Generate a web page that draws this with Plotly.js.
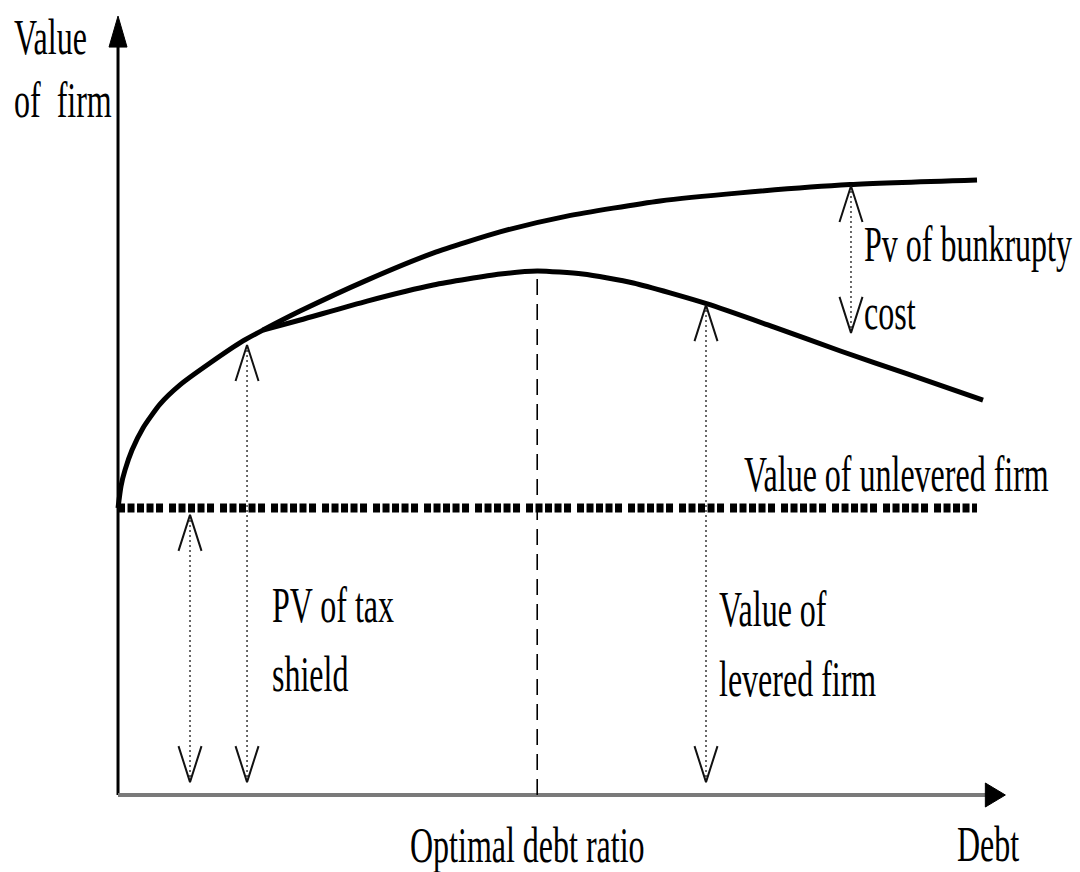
<!DOCTYPE html>
<html>
<head>
<meta charset="utf-8">
<script src="https://cdn.plot.ly/plotly-3.0.1.min.js"></script>
<style>
  html, body { margin: 0; padding: 0; background: #ffffff; }
  #chart { width: 1080px; height: 872px; }
</style>
</head>
<body>
<div id="chart"></div>
<script>
// ---- Data (debt on x, value of firm on y) ----
const debtNoDistress  = [0, 0.035, 0.081, 0.163, 0.291, 0.489, 0.722, 1.071, 1.455, 1.688, 2.119, 2.899, 3.667, 4.447, 5.227, 6.310, 7.241, 8.522, 10.0];
const valueNoDistress = [10.0, 10.77, 11.32, 12.02, 12.79, 13.62, 14.29, 15.05, 15.82, 16.20, 16.86, 17.94, 18.88, 19.62, 20.17, 20.70, 20.98, 21.27, 21.43];

const debtLevered  = [1.688, 2.12, 2.90, 3.67, 4.45, 4.88, 5.41, 6.00, 6.86, 7.63, 8.41, 9.19, 10.07];
const valueLevered = [16.20, 16.55, 17.21, 17.77, 18.15, 18.26, 18.15, 17.84, 17.11, 16.31, 15.47, 14.67, 13.76];

const unleveredValue = 10;
const unleveredDebtRange = [0, 10.0];
const optimalDebt = 4.88;
const optimalValue = 18.26;

// double-headed annotation arrows: debt position, lower tip, upper tip
const arrowDebt  = [0.838, 1.502, 6.845, 8.533];
const arrowLow   = [0.45, 0.45, 0.45, 16.10];
const arrowHigh  = [9.76, 15.68, 17.07, 21.22];

const xAxisEnd = 10.33;
const yAxisEnd = 27.14;

// ---- Geometry ----
const W = 1080, H = 872;
const xRange = [-1.374, 11.199];
const yRange = [-2.683, 27.700];
const pxPerX = W / (xRange[1] - xRange[0]);
const pxPerY = H / (yRange[1] - yRange[0]);
const dx = p => p / pxPerX;
const dy = p => p / pxPerY;

const traces = [];

// axes
traces.push({x: [0, 0], y: [0, yAxisEnd - dy(28)], mode: 'lines', line: {color: '#000', width: 3}, hoverinfo: 'skip'});
traces.push({x: [-dx(9), 0, dx(9), -dx(9)], y: [yAxisEnd - dy(31), yAxisEnd, yAxisEnd - dy(31), yAxisEnd - dy(31)],
  mode: 'lines', fill: 'toself', fillcolor: '#000', line: {color: '#000', width: 1}, hoverinfo: 'skip'});
traces.push({x: [0, xAxisEnd - dx(18)], y: [0, 0], mode: 'lines', line: {color: '#7a7a7a', width: 4}, hoverinfo: 'skip'});
traces.push({x: [xAxisEnd - dx(20), xAxisEnd, xAxisEnd - dx(20), xAxisEnd - dx(20)], y: [dy(12), 0, -dy(12), dy(12)],
  mode: 'lines', fill: 'toself', fillcolor: '#000', line: {color: '#000', width: 1}, hoverinfo: 'skip'});

// unlevered firm (thick dotted)
traces.push({x: unleveredDebtRange, y: [unleveredValue, unleveredValue], mode: 'lines',
  line: {color: '#000', width: 9, dash: '7px,2.5px,7px,2.5px,7px,2.5px,7px,2.5px,7px,6px'}, hoverinfo: 'skip'});

// optimal debt ratio dashed line
traces.push({x: [optimalDebt, optimalDebt], y: [0, optimalValue - dy(4)], mode: 'lines',
  line: {color: '#000', width: 1.6, dash: '16px,9px'}, hoverinfo: 'skip'});

// curves
traces.push({x: debtNoDistress, y: valueNoDistress, mode: 'lines',
  line: {color: '#000', width: 5, shape: 'spline', smoothing: 0.6}, hoverinfo: 'skip'});
traces.push({x: debtLevered, y: valueLevered, mode: 'lines',
  line: {color: '#000', width: 5, shape: 'spline', smoothing: 0.6}, hoverinfo: 'skip'});

// double-headed dotted arrows
const headLen = dy(36), headHalf = dx(11.5);
arrowDebt.forEach((xv, i) => {
  const lo = arrowLow[i], hi = arrowHigh[i];
  traces.push({x: [xv, xv], y: [lo, hi], mode: 'lines',
    line: {color: '#444', width: 1.6, dash: '2px,3px'}, hoverinfo: 'skip'});
  traces.push({x: [xv - headHalf, xv, xv + headHalf], y: [hi - headLen, hi, hi - headLen], mode: 'lines',
    line: {color: '#111', width: 2}, hoverinfo: 'skip'});
  traces.push({x: [xv - headHalf, xv, xv + headHalf], y: [lo + headLen, lo, lo + headLen], mode: 'lines',
    line: {color: '#111', width: 2}, hoverinfo: 'skip'});
});

// ---- Text labels (left px, centre px) ----
const labels = [
  ['Value', 12, 36],
  ['of\u00a0 firm', 12, 99],
  ['Pv of bunkrupty', 862, 243],
  ['cost', 862, 311],
  ['Value of unlevered firm', 742, 473],
  ['PV of tax', 270, 604],
  ['shield', 270, 673],
  ['Value of', 717, 608],
  ['levered firm', 717, 678],
  ['Optimal debt ratio', 408, 844],
  ['Debt', 955, 843]
];
const annotations = labels.map(([t, px, py]) => ({
  text: t, xref: 'paper', yref: 'paper', x: px / W, y: 1 - py / H,
  xanchor: 'left', yanchor: 'middle', showarrow: false,
  font: {family: 'Liberation Serif, Times New Roman, serif', size: 32, color: '#000'}
}));

const layout = {
  width: W, height: H,
  margin: {l: 0, r: 0, t: 0, b: 0},
  paper_bgcolor: '#fff', plot_bgcolor: '#fff',
  showlegend: false,
  xaxis: {range: xRange, visible: false, fixedrange: true},
  yaxis: {range: yRange, visible: false, fixedrange: true},
  annotations: annotations
};

Plotly.newPlot('chart', traces, layout, {staticPlot: true, displayModeBar: false}).then(gd => {
  const K = 1.6;
  gd.querySelectorAll('.annotation-text').forEach(t => {
    const b = t.getBBox();
    const cy = b.y + b.height / 2;
    t.setAttribute('transform', `translate(0 ${cy}) scale(1 ${K}) translate(0 ${-cy})`);
  });
});
</script>
</body>
</html>
